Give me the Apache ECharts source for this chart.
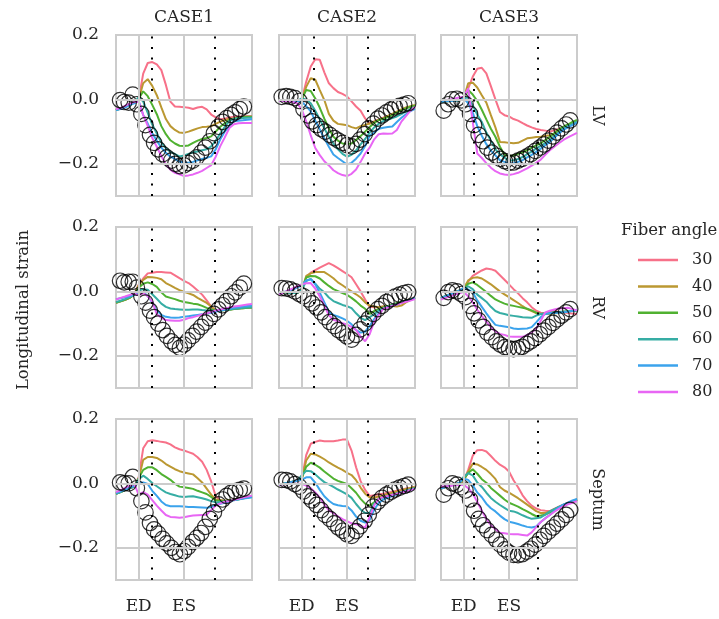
<!DOCTYPE html>
<html><head><meta charset="utf-8">
<script src="https://cdn.jsdelivr.net/npm/echarts@6/dist/echarts.min.js"></script>
<style>html,body{margin:0;padding:0;background:#fff}#c{width:719px;height:619px}</style>
</head><body><div id="c"></div>
<script>
// ---------- DATA ----------
const cases = ['CASE1', 'CASE2', 'CASE3'];
const regions = ['LV', 'RV', 'Septum'];
const angles = ['30', '40', '50', '60', '70', '80'];
const xTickNames = { 0: 'ED', 1: 'ES' };
const yTickLabels = ['\u22120.2', '0.0', '0.2'];

// simulation time grid (ED = 0, ES = 1)
const lineT = [-0.5,-0.4,-0.3,-0.2,-0.1,0.0,0.1,0.2,0.3,0.4,0.5,0.6,0.7,0.8,0.9,1.0,1.1,1.2,1.3,1.4,1.5,1.6,1.7,1.8,1.9,2.0,2.1,2.2,2.3,2.4,2.5];
// measured time points per case
const tCase1 = [-0.41,-0.32,-0.22,-0.13,-0.04,0.06,0.15,0.25,0.34,0.43,0.53,0.62,0.72,0.81,0.91,1.0,1.09,1.19,1.28,1.38,1.47,1.57,1.66,1.76,1.85,1.94,2.04,2.13,2.23,2.32];
const tCase2 = [-0.44,-0.34,-0.25,-0.15,-0.05,0.04,0.14,0.23,0.33,0.43,0.52,0.62,0.72,0.81,0.91,1.0,1.1,1.2,1.29,1.39,1.48,1.58,1.68,1.77,1.87,1.97,2.06,2.16,2.26,2.35];
const tCase3 = [-0.44,-0.34,-0.25,-0.15,-0.05,0.04,0.14,0.23,0.33,0.43,0.52,0.62,0.72,0.81,0.91,1.0,1.1,1.2,1.29,1.39,1.48,1.58,1.68,1.77,1.87,1.97,2.06,2.16,2.26,2.35];
// dotted event markers per case
const eventsCase1 = [0.287, 1.684];
const eventsCase2 = [0.257, 1.457];
const eventsCase3 = [0.235, 1.633];

// ---- LV ----
const lv1_30 = [-0.032,-0.028,-0.022,-0.015,-0.008,0.0,0.08,0.113,0.116,0.109,0.091,0.045,-0.007,-0.022,-0.023,-0.024,-0.026,-0.030,-0.025,-0.023,-0.031,-0.047,-0.056,-0.062,-0.060,-0.056,-0.054,-0.053,-0.053,-0.052,-0.052];
const lv1_40 = [-0.033,-0.028,-0.023,-0.015,-0.008,0.0,0.05,0.063,0.042,0.013,-0.025,-0.061,-0.083,-0.095,-0.103,-0.104,-0.1,-0.095,-0.09,-0.086,-0.085,-0.083,-0.076,-0.069,-0.064,-0.061,-0.059,-0.057,-0.055,-0.054,-0.054];
const lv1_50 = [-0.033,-0.028,-0.023,-0.016,-0.009,0.002,0.025,0.01,-0.017,-0.046,-0.083,-0.108,-0.127,-0.137,-0.144,-0.145,-0.143,-0.135,-0.128,-0.123,-0.12,-0.115,-0.1,-0.085,-0.074,-0.064,-0.06,-0.057,-0.055,-0.054,-0.054];
const lv1_60 = [-0.033,-0.029,-0.024,-0.017,-0.010,0.007,-0.007,-0.042,-0.078,-0.106,-0.134,-0.151,-0.163,-0.17,-0.177,-0.174,-0.169,-0.164,-0.162,-0.158,-0.155,-0.146,-0.128,-0.106,-0.085,-0.067,-0.061,-0.059,-0.058,-0.057,-0.057];
const lv1_70 = [-0.033,-0.030,-0.025,-0.018,-0.012,-0.005,-0.048,-0.075,-0.105,-0.128,-0.15,-0.166,-0.178,-0.185,-0.193,-0.197,-0.197,-0.194,-0.189,-0.185,-0.181,-0.177,-0.155,-0.124,-0.1,-0.082,-0.068,-0.066,-0.065,-0.063,-0.062];
const lv1_80 = [-0.030,-0.027,-0.020,-0.013,-0.008,-0.007,-0.048,-0.082,-0.12,-0.147,-0.176,-0.202,-0.218,-0.228,-0.233,-0.238,-0.236,-0.233,-0.228,-0.222,-0.213,-0.204,-0.178,-0.145,-0.118,-0.089,-0.077,-0.074,-0.073,-0.073,-0.073];
const lv1_obs = [-0.002,-0.008,-0.01,0.015,-0.015,-0.045,-0.08,-0.11,-0.135,-0.155,-0.17,-0.18,-0.19,-0.2,-0.207,-0.205,-0.198,-0.19,-0.18,-0.165,-0.15,-0.13,-0.105,-0.085,-0.07,-0.058,-0.048,-0.04,-0.03,-0.022];

const lv2_30 = [-0.003,-0.004,-0.004,-0.005,-0.005,-0.002,0.055,0.102,0.125,0.123,0.084,0.05,0.035,0.023,0.017,0.009,-0.006,-0.022,-0.035,-0.059,-0.075,-0.068,-0.062,-0.057,-0.052,-0.047,-0.039,-0.033,-0.027,-0.023,-0.02];
const lv2_40 = [-0.003,-0.004,-0.004,-0.005,-0.005,-0.002,0.039,0.066,0.061,0.029,-0.002,-0.045,-0.066,-0.076,-0.078,-0.08,-0.086,-0.09,-0.083,-0.079,-0.075,-0.069,-0.064,-0.058,-0.051,-0.045,-0.038,-0.031,-0.025,-0.021,-0.017];
const lv2_50 = [-0.003,-0.004,-0.004,-0.005,-0.005,0.0,0.029,0.026,0.003,-0.026,-0.06,-0.09,-0.116,-0.128,-0.137,-0.138,-0.137,-0.126,-0.114,-0.1,-0.086,-0.073,-0.064,-0.06,-0.055,-0.049,-0.041,-0.034,-0.028,-0.023,-0.02];
const lv2_60 = [-0.003,-0.004,-0.004,-0.005,-0.005,0.003,0.0,-0.012,-0.035,-0.062,-0.09,-0.116,-0.137,-0.155,-0.169,-0.178,-0.172,-0.158,-0.14,-0.123,-0.103,-0.087,-0.076,-0.067,-0.063,-0.058,-0.053,-0.046,-0.037,-0.03,-0.025];
const lv2_70 = [-0.003,-0.004,-0.004,-0.005,-0.005,-0.007,-0.021,-0.037,-0.066,-0.093,-0.121,-0.147,-0.171,-0.182,-0.192,-0.202,-0.197,-0.184,-0.168,-0.145,-0.113,-0.103,-0.091,-0.088,-0.086,-0.084,-0.07,-0.057,-0.046,-0.036,-0.029];
const lv2_80 = [-0.004,-0.005,-0.006,-0.008,-0.012,-0.031,-0.068,-0.112,-0.151,-0.173,-0.192,-0.205,-0.22,-0.229,-0.235,-0.238,-0.231,-0.218,-0.194,-0.168,-0.15,-0.124,-0.108,-0.106,-0.107,-0.106,-0.095,-0.069,-0.052,-0.035,-0.023];
const lv2_obs = [0.008,0.01,0.008,0.004,-0.005,-0.03,-0.05,-0.068,-0.08,-0.092,-0.1,-0.11,-0.12,-0.128,-0.135,-0.142,-0.146,-0.138,-0.125,-0.108,-0.09,-0.075,-0.06,-0.05,-0.04,-0.032,-0.025,-0.02,-0.016,-0.012];

const lv3_30 = [-0.007,-0.006,-0.005,-0.004,-0.003,0.004,0.034,0.07,0.095,0.098,0.081,0.041,0.0,-0.039,-0.049,-0.053,-0.061,-0.066,-0.074,-0.081,-0.087,-0.092,-0.095,-0.097,-0.1,-0.096,-0.092,-0.087,-0.081,-0.075,-0.069];
const lv3_40 = [-0.007,-0.006,-0.005,-0.004,-0.003,0.003,0.05,0.052,0.037,0.013,-0.01,-0.049,-0.087,-0.132,-0.133,-0.135,-0.136,-0.135,-0.128,-0.121,-0.119,-0.117,-0.116,-0.113,-0.111,-0.106,-0.098,-0.09,-0.082,-0.075,-0.067];
const lv3_50 = [-0.007,-0.006,-0.005,-0.004,-0.003,0.002,0.029,0.015,-0.005,-0.032,-0.062,-0.091,-0.116,-0.147,-0.172,-0.176,-0.174,-0.169,-0.164,-0.158,-0.15,-0.143,-0.136,-0.126,-0.116,-0.105,-0.093,-0.085,-0.078,-0.07,-0.064];
const lv3_60 = [-0.007,-0.006,-0.005,-0.004,-0.003,0.006,0.005,-0.018,-0.047,-0.07,-0.103,-0.128,-0.155,-0.17,-0.181,-0.19,-0.189,-0.185,-0.179,-0.17,-0.162,-0.152,-0.144,-0.136,-0.126,-0.114,-0.102,-0.09,-0.083,-0.077,-0.069];
const lv3_70 = [-0.007,-0.006,-0.005,-0.004,-0.003,0.004,-0.012,-0.041,-0.083,-0.113,-0.139,-0.159,-0.174,-0.189,-0.194,-0.199,-0.198,-0.194,-0.189,-0.18,-0.172,-0.163,-0.153,-0.142,-0.132,-0.119,-0.106,-0.095,-0.087,-0.08,-0.073];
const lv3_80 = [-0.002,-0.002,0.0,0.003,0.006,0.008,0.034,-0.07,-0.168,-0.182,-0.198,-0.212,-0.223,-0.23,-0.233,-0.235,-0.232,-0.228,-0.221,-0.214,-0.206,-0.197,-0.187,-0.172,-0.158,-0.147,-0.136,-0.126,-0.118,-0.111,-0.104];
const lv3_obs = [-0.035,-0.015,0.0,0.002,-0.003,-0.015,-0.045,-0.08,-0.11,-0.13,-0.15,-0.165,-0.175,-0.185,-0.192,-0.197,-0.196,-0.19,-0.185,-0.178,-0.17,-0.16,-0.15,-0.14,-0.128,-0.115,-0.103,-0.09,-0.078,-0.065];

// ---- RV ----
const rv1_30 = [-0.035,-0.031,-0.026,-0.02,-0.009,0.021,0.04,0.056,0.058,0.06,0.06,0.059,0.058,0.05,0.041,0.033,0.026,0.015,0.003,-0.01,-0.028,-0.047,-0.059,-0.058,-0.057,-0.055,-0.053,-0.052,-0.051,-0.05,-0.049];
const rv1_40 = [-0.035,-0.031,-0.026,-0.02,-0.01,0.019,0.036,0.045,0.044,0.042,0.038,0.026,0.019,0.011,0.004,-0.001,-0.006,-0.011,-0.02,-0.028,-0.036,-0.047,-0.059,-0.059,-0.058,-0.057,-0.055,-0.053,-0.052,-0.051,-0.05];
const rv1_50 = [-0.035,-0.031,-0.026,-0.02,-0.01,0.011,0.024,0.028,0.023,0.014,-0.003,-0.016,-0.02,-0.024,-0.029,-0.033,-0.035,-0.038,-0.04,-0.045,-0.051,-0.056,-0.059,-0.059,-0.058,-0.057,-0.055,-0.053,-0.052,-0.051,-0.05];
const rv1_60 = [-0.033,-0.029,-0.024,-0.018,-0.01,0.003,0.007,0.005,-0.009,-0.023,-0.038,-0.048,-0.053,-0.055,-0.056,-0.057,-0.057,-0.056,-0.056,-0.058,-0.059,-0.06,-0.06,-0.059,-0.058,-0.056,-0.054,-0.053,-0.051,-0.05,-0.049];
const rv1_70 = [-0.024,-0.021,-0.018,-0.015,-0.011,-0.003,-0.002,-0.014,-0.034,-0.059,-0.073,-0.079,-0.081,-0.082,-0.081,-0.079,-0.077,-0.075,-0.073,-0.071,-0.069,-0.066,-0.063,-0.059,-0.057,-0.054,-0.051,-0.049,-0.047,-0.045,-0.044];
const rv1_80 = [-0.025,-0.02,-0.016,-0.011,-0.007,-0.012,-0.005,-0.015,-0.031,-0.071,-0.082,-0.089,-0.09,-0.091,-0.091,-0.088,-0.083,-0.08,-0.076,-0.072,-0.068,-0.064,-0.059,-0.056,-0.053,-0.05,-0.047,-0.045,-0.043,-0.041,-0.039];
const rv1_obs = [0.033,0.028,0.03,0.03,0.012,-0.015,-0.035,-0.06,-0.08,-0.1,-0.12,-0.138,-0.155,-0.166,-0.175,-0.165,-0.152,-0.138,-0.125,-0.11,-0.097,-0.083,-0.07,-0.056,-0.043,-0.03,-0.015,-0.003,0.012,0.024];

const rv2_30 = [-0.002,-0.003,-0.004,-0.005,-0.005,0.003,0.043,0.058,0.066,0.074,0.081,0.088,0.081,0.072,0.063,0.054,0.044,0.022,0.0,-0.025,-0.048,-0.049,-0.049,-0.047,-0.046,-0.044,-0.041,-0.035,-0.029,-0.023,-0.019];
const rv2_40 = [-0.002,-0.003,-0.004,-0.005,-0.005,0.003,0.048,0.056,0.06,0.06,0.06,0.051,0.041,0.028,0.019,0.009,0.0,-0.009,-0.019,-0.034,-0.044,-0.047,-0.049,-0.047,-0.045,-0.045,-0.047,-0.044,-0.034,-0.027,-0.021];
const rv2_50 = [-0.002,-0.003,-0.004,-0.005,-0.005,0.003,0.043,0.048,0.047,0.04,0.028,0.017,0.007,0.001,-0.005,-0.011,-0.02,-0.031,-0.044,-0.054,-0.07,-0.061,-0.055,-0.05,-0.045,-0.041,-0.036,-0.032,-0.028,-0.024,-0.02];
const rv2_60 = [-0.002,-0.003,-0.004,-0.005,-0.005,0.003,0.032,0.039,0.024,0.008,-0.003,-0.019,-0.03,-0.036,-0.042,-0.046,-0.052,-0.068,-0.082,-0.089,-0.08,-0.071,-0.059,-0.054,-0.05,-0.045,-0.041,-0.035,-0.03,-0.025,-0.02];
const rv2_70 = [-0.004,-0.002,0.001,0.006,0.012,0.019,0.034,0.038,0.022,-0.004,-0.034,-0.064,-0.073,-0.078,-0.084,-0.091,-0.102,-0.12,-0.128,-0.125,-0.107,-0.086,-0.068,-0.054,-0.048,-0.044,-0.04,-0.035,-0.03,-0.025,-0.02];
const rv2_80 = [-0.01,-0.004,0.003,0.009,0.016,0.022,0.025,0.026,0.009,-0.016,-0.044,-0.074,-0.088,-0.093,-0.099,-0.103,-0.11,-0.12,-0.14,-0.155,-0.133,-0.094,-0.073,-0.054,-0.05,-0.045,-0.041,-0.036,-0.032,-0.028,-0.024];
const rv2_obs = [0.01,0.009,0.006,0.0,-0.008,-0.015,-0.025,-0.037,-0.05,-0.065,-0.08,-0.095,-0.108,-0.12,-0.13,-0.14,-0.15,-0.135,-0.118,-0.1,-0.085,-0.07,-0.055,-0.045,-0.033,-0.024,-0.016,-0.01,-0.005,-0.002];

const rv3_30 = [-0.02,-0.015,-0.009,-0.004,0.002,0.009,0.03,0.048,0.057,0.065,0.071,0.069,0.064,0.05,0.036,0.022,0.007,-0.006,-0.021,-0.034,-0.049,-0.06,-0.066,-0.068,-0.063,-0.06,-0.063,-0.065,-0.067,-0.069,-0.07];
const rv3_40 = [-0.02,-0.015,-0.009,-0.004,0.002,0.009,0.034,0.042,0.044,0.04,0.031,0.022,0.011,0.0,-0.009,-0.018,-0.027,-0.036,-0.046,-0.055,-0.061,-0.067,-0.07,-0.07,-0.07,-0.068,-0.067,-0.065,-0.063,-0.06,-0.059];
const rv3_50 = [-0.02,-0.015,-0.009,-0.004,0.002,0.007,0.024,0.028,0.02,0.009,-0.002,-0.014,-0.025,-0.032,-0.038,-0.042,-0.045,-0.048,-0.051,-0.054,-0.059,-0.066,-0.07,-0.069,-0.067,-0.065,-0.064,-0.063,-0.062,-0.06,-0.059];
const rv3_60 = [-0.02,-0.015,-0.009,-0.004,0.002,0.007,0.016,0.007,-0.01,-0.021,-0.032,-0.048,-0.061,-0.067,-0.07,-0.074,-0.076,-0.078,-0.08,-0.081,-0.082,-0.075,-0.07,-0.069,-0.067,-0.065,-0.064,-0.063,-0.062,-0.06,-0.059];
const rv3_70 = [-0.02,-0.015,-0.009,-0.004,0.002,0.011,0.006,-0.003,-0.028,-0.048,-0.068,-0.087,-0.104,-0.107,-0.109,-0.111,-0.115,-0.117,-0.116,-0.115,-0.111,-0.096,-0.08,-0.07,-0.068,-0.067,-0.066,-0.065,-0.063,-0.061,-0.058];
const rv3_80 = [-0.025,-0.02,-0.016,-0.01,-0.006,-0.002,-0.015,-0.034,-0.057,-0.076,-0.094,-0.111,-0.124,-0.132,-0.135,-0.14,-0.141,-0.141,-0.141,-0.135,-0.128,-0.115,-0.091,-0.065,-0.06,-0.056,-0.053,-0.052,-0.051,-0.055,-0.059];
const rv3_obs = [-0.02,-0.002,0.003,0.0,-0.008,-0.018,-0.045,-0.068,-0.09,-0.11,-0.128,-0.142,-0.155,-0.165,-0.173,-0.177,-0.179,-0.177,-0.172,-0.163,-0.155,-0.145,-0.133,-0.122,-0.11,-0.098,-0.087,-0.075,-0.065,-0.055];

// ---- Septum ----
const se1_30 = [-0.032,-0.027,-0.021,-0.015,-0.01,0.019,0.109,0.131,0.134,0.132,0.129,0.127,0.121,0.112,0.106,0.102,0.097,0.092,0.081,0.067,0.042,0.006,-0.04,-0.052,-0.055,-0.052,-0.05,-0.048,-0.045,-0.042,-0.04];
const se1_40 = [-0.032,-0.027,-0.021,-0.015,-0.01,0.013,0.073,0.082,0.082,0.079,0.071,0.06,0.052,0.044,0.038,0.034,0.031,0.028,0.016,0.003,-0.016,-0.035,-0.05,-0.052,-0.054,-0.052,-0.05,-0.048,-0.045,-0.042,-0.04];
const se1_50 = [-0.032,-0.027,-0.021,-0.015,-0.01,0.016,0.042,0.05,0.05,0.041,0.029,0.02,0.011,-0.001,-0.01,-0.012,-0.014,-0.017,-0.023,-0.028,-0.033,-0.042,-0.053,-0.054,-0.055,-0.053,-0.051,-0.049,-0.046,-0.043,-0.041];
const se1_60 = [-0.032,-0.027,-0.021,-0.015,-0.01,0.013,0.024,0.014,0.001,-0.009,-0.019,-0.028,-0.033,-0.037,-0.041,-0.042,-0.041,-0.04,-0.043,-0.046,-0.05,-0.055,-0.059,-0.058,-0.057,-0.055,-0.052,-0.05,-0.047,-0.044,-0.042];
const se1_70 = [-0.03,-0.025,-0.019,-0.013,-0.008,0.001,0.003,-0.002,-0.023,-0.039,-0.056,-0.067,-0.071,-0.071,-0.071,-0.072,-0.073,-0.073,-0.074,-0.075,-0.076,-0.073,-0.067,-0.063,-0.06,-0.056,-0.052,-0.049,-0.047,-0.045,-0.043];
const se1_80 = [-0.027,-0.021,-0.014,-0.007,-0.001,-0.035,-0.027,-0.035,-0.052,-0.069,-0.084,-0.098,-0.104,-0.105,-0.107,-0.105,-0.102,-0.1,-0.099,-0.098,-0.097,-0.083,-0.069,-0.062,-0.057,-0.055,-0.051,-0.048,-0.044,-0.041,-0.038];
const se1_obs = [0.003,0.0,0.0,0.02,-0.015,-0.055,-0.09,-0.123,-0.143,-0.156,-0.172,-0.186,-0.2,-0.213,-0.22,-0.21,-0.197,-0.182,-0.169,-0.154,-0.135,-0.11,-0.09,-0.065,-0.05,-0.039,-0.029,-0.024,-0.02,-0.016];

const se2_30 = [-0.004,-0.001,0.002,0.005,0.008,0.011,0.088,0.123,0.129,0.133,0.131,0.131,0.131,0.133,0.136,0.136,0.102,0.05,0.007,-0.02,-0.039,-0.037,-0.034,-0.032,-0.029,-0.026,-0.023,-0.02,-0.016,-0.014,-0.011];
const se2_40 = [-0.004,-0.001,0.002,0.005,0.008,0.011,0.071,0.092,0.09,0.083,0.075,0.065,0.057,0.049,0.042,0.033,0.026,0.01,-0.013,-0.032,-0.044,-0.044,-0.041,-0.037,-0.033,-0.029,-0.025,-0.021,-0.017,-0.014,-0.011];
const se2_50 = [-0.004,-0.001,0.002,0.005,0.008,0.016,0.052,0.064,0.058,0.049,0.037,0.026,0.015,0.008,0.003,-0.002,-0.015,-0.029,-0.048,-0.063,-0.069,-0.059,-0.048,-0.042,-0.039,-0.035,-0.031,-0.027,-0.023,-0.019,-0.014];
const se2_60 = [-0.004,-0.001,0.002,0.005,0.008,0.025,0.039,0.038,0.028,0.015,0.004,-0.003,-0.011,-0.019,-0.026,-0.034,-0.045,-0.064,-0.081,-0.092,-0.092,-0.063,-0.048,-0.043,-0.039,-0.035,-0.031,-0.027,-0.023,-0.019,-0.015];
const se2_70 = [-0.004,-0.001,0.002,0.005,0.008,0.011,0.019,0.019,0.002,-0.02,-0.04,-0.054,-0.064,-0.068,-0.07,-0.071,-0.084,-0.103,-0.116,-0.122,-0.113,-0.082,-0.061,-0.05,-0.044,-0.039,-0.034,-0.029,-0.025,-0.021,-0.016];
const se2_80 = [-0.004,-0.003,-0.002,-0.001,-0.001,-0.001,-0.007,-0.015,-0.028,-0.044,-0.065,-0.084,-0.092,-0.102,-0.111,-0.117,-0.124,-0.127,-0.131,-0.138,-0.104,-0.068,-0.048,-0.042,-0.039,-0.035,-0.032,-0.028,-0.025,-0.021,-0.017];
const se2_obs = [0.011,0.01,0.006,-0.002,-0.01,-0.025,-0.04,-0.053,-0.067,-0.083,-0.098,-0.11,-0.124,-0.137,-0.147,-0.158,-0.163,-0.148,-0.133,-0.116,-0.097,-0.072,-0.057,-0.045,-0.035,-0.026,-0.019,-0.013,-0.008,-0.004];

const se3_30 = [-0.016,-0.011,-0.007,-0.003,0.001,0.008,0.042,0.086,0.103,0.104,0.099,0.085,0.07,0.058,0.05,0.037,0.01,-0.012,-0.037,-0.055,-0.069,-0.078,-0.083,-0.085,-0.086,-0.079,-0.072,-0.066,-0.06,-0.056,-0.05];
const se3_40 = [-0.016,-0.011,-0.007,-0.003,0.001,0.008,0.037,0.061,0.059,0.051,0.042,0.029,0.014,-0.011,-0.022,-0.029,-0.037,-0.046,-0.056,-0.066,-0.076,-0.086,-0.092,-0.092,-0.087,-0.08,-0.074,-0.069,-0.063,-0.057,-0.05];
const se3_50 = [-0.016,-0.011,-0.007,-0.003,0.001,0.013,0.032,0.044,0.03,0.013,0.002,-0.014,-0.026,-0.038,-0.05,-0.06,-0.066,-0.072,-0.08,-0.087,-0.095,-0.102,-0.1,-0.097,-0.091,-0.082,-0.074,-0.069,-0.063,-0.057,-0.05];
const se3_60 = [-0.016,-0.011,-0.007,-0.003,0.001,0.02,0.032,0.025,0.003,-0.011,-0.029,-0.045,-0.057,-0.067,-0.076,-0.085,-0.087,-0.092,-0.099,-0.105,-0.11,-0.108,-0.106,-0.097,-0.087,-0.08,-0.073,-0.066,-0.061,-0.056,-0.05];
const se3_70 = [-0.016,-0.011,-0.007,-0.003,0.001,0.015,0.011,-0.006,-0.028,-0.043,-0.063,-0.077,-0.087,-0.1,-0.111,-0.119,-0.122,-0.126,-0.131,-0.135,-0.137,-0.134,-0.12,-0.108,-0.098,-0.086,-0.075,-0.066,-0.06,-0.053,-0.048];
const se3_80 = [-0.01,-0.009,-0.008,-0.006,-0.005,-0.004,-0.015,-0.032,-0.057,-0.085,-0.11,-0.13,-0.142,-0.153,-0.155,-0.157,-0.158,-0.158,-0.16,-0.162,-0.152,-0.136,-0.12,-0.109,-0.098,-0.088,-0.079,-0.071,-0.065,-0.06,-0.055];
const se3_obs = [-0.035,-0.015,0.0,-0.004,-0.012,-0.022,-0.05,-0.085,-0.11,-0.13,-0.145,-0.16,-0.175,-0.19,-0.205,-0.215,-0.222,-0.223,-0.22,-0.212,-0.203,-0.19,-0.175,-0.163,-0.15,-0.137,-0.125,-0.112,-0.098,-0.082];

// ---------- LAYOUT / STYLE ----------
const colors = ['#f77189', '#bb9832', '#50b131', '#36ada4', '#3ba3ec', '#e866f4'];
const FONT = '"DejaVu Serif", serif';
const TXT = '#262626';
const GRIDC = '#cccccc';
const colLeft = [116, 279, 441];
const rowTop = [35, 227, 419];
const PW = 136, PH = 161;

const panels = [
  [[lv1_30, lv1_40, lv1_50, lv1_60, lv1_70, lv1_80, lv1_obs], [lv2_30, lv2_40, lv2_50, lv2_60, lv2_70, lv2_80, lv2_obs], [lv3_30, lv3_40, lv3_50, lv3_60, lv3_70, lv3_80, lv3_obs]],
  [[rv1_30, rv1_40, rv1_50, rv1_60, rv1_70, rv1_80, rv1_obs], [rv2_30, rv2_40, rv2_50, rv2_60, rv2_70, rv2_80, rv2_obs], [rv3_30, rv3_40, rv3_50, rv3_60, rv3_70, rv3_80, rv3_obs]],
  [[se1_30, se1_40, se1_50, se1_60, se1_70, se1_80, se1_obs], [se2_30, se2_40, se2_50, se2_60, se2_70, se2_80, se2_obs], [se3_30, se3_40, se3_50, se3_60, se3_70, se3_80, se3_obs]]
];
const caseTimes = [tCase1, tCase2, tCase3];
const caseEvents = [eventsCase1, eventsCase2, eventsCase3];

function fmtX(v) {
  for (const k in xTickNames) { if (Math.abs(v - Number(k)) < 1e-6) return xTickNames[k]; }
  return '';
}
function fmtY(v) {
  const r = Math.round(v * 10) / 10;
  if (Math.abs(r + 0.2) < 1e-9) return yTickLabels[0];
  if (Math.abs(r) < 1e-9) return yTickLabels[1];
  if (Math.abs(r - 0.2) < 1e-9) return yTickLabels[2];
  return '';
}

const grid = [], xAxis = [], yAxis = [], series = [];
for (let r = 0; r < 3; r++) {
  for (let c = 0; c < 3; c++) {
    const idx = r * 3 + c;
    grid.push({ left: colLeft[c], top: rowTop[r], width: PW, height: PH, show: true,
      borderColor: GRIDC, borderWidth: 2, backgroundColor: '#ffffff' });
    xAxis.push({ gridIndex: idx, type: 'value', min: -0.5, max: 2.5, interval: 0.5,
      axisLine: { show: false }, axisTick: { show: false }, splitLine: { show: false },
      axisLabel: { show: r === 2, formatter: fmtX, margin: 18, fontFamily: FONT, fontSize: 17, color: TXT,
        showMinLabel: true, showMaxLabel: true } });
    yAxis.push({ gridIndex: idx, type: 'value', min: -0.3, max: 0.2, interval: 0.1,
      axisLine: { show: false }, axisTick: { show: false }, splitLine: { show: false },
      axisLabel: { show: c === 0, formatter: fmtY, margin: 17, fontFamily: FONT, fontSize: 17, color: TXT,
        showMinLabel: true, showMaxLabel: true } });
    // gray grid lines at ED / ES and 0.0 / -0.2
    series.push({ type: 'line', xAxisIndex: idx, yAxisIndex: idx, data: [], z: 1, silent: true,
      markLine: { symbol: ['none', 'none'], silent: true, animation: false, label: { show: false },
        emphasis: { disabled: true },
        lineStyle: { color: GRIDC, width: 2, type: 'solid' },
        data: [{ xAxis: 0 }, { xAxis: 1 }, { yAxis: 0 }, { yAxis: -0.2 }] } });
    const p = panels[r][c];
    for (let a = 0; a < 6; a++) {
      series.push({ type: 'line', name: angles[a], xAxisIndex: idx, yAxisIndex: idx,
        data: lineT.map((t, i) => [t, p[a][i]]), showSymbol: false, symbol: 'none',
        lineStyle: { color: colors[a], width: 2 }, itemStyle: { color: colors[a] },
        z: 2, silent: true, clip: true });
    }
    const tc = caseTimes[c];
    series.push({ type: 'scatter', name: 'measured', xAxisIndex: idx, yAxisIndex: idx,
      data: tc.map((t, i) => [t, p[6][i]]), symbol: 'circle', symbolSize: 15.5,
      itemStyle: { color: 'rgba(0,0,0,0)', borderColor: '#000000', borderWidth: 1.2 },
      z: 3, silent: true, clip: true });
    series.push({ type: 'line', xAxisIndex: idx, yAxisIndex: idx, data: [], z: 4, silent: true,
      markLine: { symbol: ['none', 'none'], silent: true, animation: false, label: { show: false },
        emphasis: { disabled: true },
        lineStyle: { color: '#000000', width: 2, type: [2, 8.5] },
        data: caseEvents[c].map(v => ({ xAxis: v })) } });
  }
}

const graphic = [];
cases.forEach((t, c) => graphic.push({ type: 'text', x: colLeft[c] + PW / 2, y: 18,
  style: { text: t, font: '17px ' + FONT, fill: TXT, textAlign: 'center', textVerticalAlign: 'middle' } }));
regions.forEach((t, r) => graphic.push({ type: 'text', x: 597, y: rowTop[r] + PH / 2, rotation: -Math.PI / 2,
  style: { text: t, font: '16px ' + FONT, fill: TXT, textAlign: 'center', textVerticalAlign: 'middle' } }));
graphic.push({ type: 'text', x: 24, y: 310, rotation: Math.PI / 2,
  style: { text: 'Longitudinal strain', font: '16.5px ' + FONT, fill: TXT, textAlign: 'center', textVerticalAlign: 'middle' } });
graphic.push({ type: 'text', x: 621, y: 231,
  style: { text: 'Fiber angle', font: '16.5px ' + FONT, fill: TXT, textAlign: 'left', textVerticalAlign: 'middle' } });

const chart = echarts.init(document.getElementById('c'), null, { renderer: 'canvas' });
chart.setOption({
  animation: false,
  backgroundColor: '#ffffff',
  grid, xAxis, yAxis, series, graphic,
  legend: { data: angles.map(a => ({ name: a, icon: 'rect' })), orient: 'vertical', left: 633, top: 247,
    itemWidth: 40, itemHeight: 2.5, itemGap: 10.4, selectedMode: false,
    textStyle: { fontFamily: FONT, fontSize: 16, color: TXT, lineHeight: 16, padding: [0, 0, 0, 9] } }
});
</script></body></html>
